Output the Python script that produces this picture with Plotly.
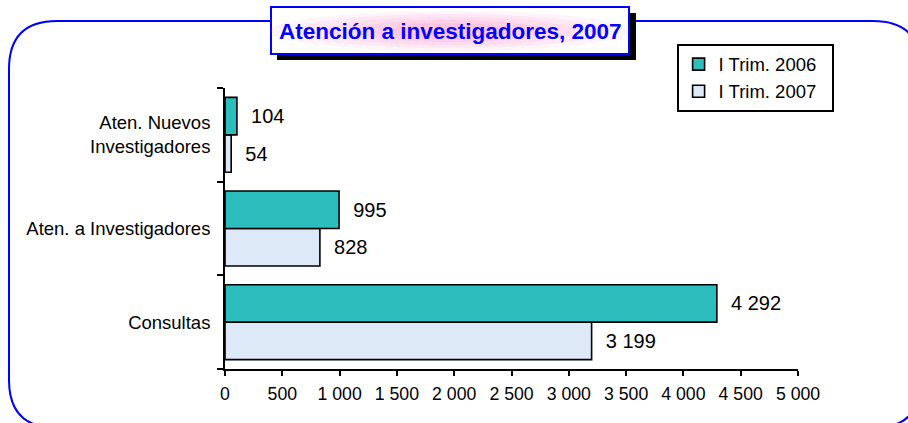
import plotly.graph_objects as go

# ---- data ----
categories = ["Consultas", "Aten. a Investigadores", "Aten. Nuevos<br>Investigadores"]
trim_2006 = [4292, 995, 104]
trim_2007 = [3199, 828, 54]
series_names = ["I Trim. 2006", "I Trim. 2007"]
x_tickvals = [0, 500, 1000, 1500, 2000, 2500, 3000, 3500, 4000, 4500, 5000]
title_text = "Atención a investigadores, 2007"

# ---- geometry helpers (pixel -> paper) ----
W, H = 908, 423
L, R, T, B = 225, 110, 88, 54
PW, PH = W - L - R, H - T - B


def px(x):
    return (x - L) / PW


def py(y):
    return (H - B - y) / PH


def rrect_path(x0, y0, x1, y1, r):
    pts = [
        ("M", [(x0 + r, y0)]),
        ("L", [(x1 - r, y0)]),
        ("Q", [(x1, y0), (x1, y0 + r)]),
        ("L", [(x1, y1 - r)]),
        ("Q", [(x1, y1), (x1 - r, y1)]),
        ("L", [(x0 + r, y1)]),
        ("Q", [(x0, y1), (x0, y1 - r)]),
        ("L", [(x0, y0 + r)]),
        ("Q", [(x0, y0), (x0 + r, y0)]),
    ]
    s = ""
    for cmd, ps in pts:
        s += cmd + " " + " ".join(f"{px(a):.5f},{py(b):.5f}" for a, b in ps) + " "
    return s + "Z"


FONT = "Liberation Sans, Arial, sans-serif"

fig = go.Figure()
fig.add_trace(go.Bar(
    y=categories, x=trim_2007, name=series_names[1] + "\u00a0\u00a0", orientation="h",
    marker=dict(color="#dde9f6", line=dict(color="black", width=1.6)),
    texttemplate="\u00a0\u00a0%{x:,d}", textposition="outside",
    textfont=dict(size=20, color="black", family=FONT),
    cliponaxis=False, legendrank=2,
))
fig.add_trace(go.Bar(
    y=categories, x=trim_2006, name=series_names[0] + "\u00a0\u00a0", orientation="h",
    marker=dict(color="#2cbdbd", line=dict(color="black", width=1.6)),
    texttemplate="\u00a0\u00a0%{x:,d}", textposition="outside",
    textfont=dict(size=20, color="black", family=FONT),
    cliponaxis=False, legendrank=1,
))

shapes = []
# outer rounded frame
shapes.append(dict(type="path", xref="paper", yref="paper",
                   path=rrect_path(9, 21, 921, 428, 48),
                   line=dict(color="#0000ff", width=2), layer="below"))
# title shadow
shapes.append(dict(type="rect", xref="paper", yref="paper",
                   x0=px(277), x1=px(636), y0=py(13), y1=py(60),
                   fillcolor="black", line=dict(width=0), layer="above"))
# title box
shapes.append(dict(type="rect", xref="paper", yref="paper",
                   x0=px(271), x1=px(629), y0=py(7), y1=py(54),
                   fillcolor="white", line=dict(color="#0000ff", width=2), layer="above"))
# pink glow
for rx, ry, op in [(180, 20, 0.07), (155, 17, 0.08), (125, 14, 0.09), (95, 11, 0.1), (60, 8, 0.1)]:
    shapes.append(dict(type="circle", xref="paper", yref="paper",
                       x0=px(450 - rx), x1=px(450 + rx), y0=py(31 - ry), y1=py(31 + ry),
                       fillcolor=f"rgba(255,105,180,{op})", line=dict(width=0), layer="above"))

fig.update_layout(
    width=W, height=H,
    margin=dict(l=L, r=R, t=T, b=B, pad=0),
    paper_bgcolor="white", plot_bgcolor="rgba(0,0,0,0)",
    barmode="group", bargap=0.2, bargroupgap=0,
    separators=", ",
    font=dict(family=FONT, color="black", size=18),
    showlegend=True,
    legend=dict(x=px(677), y=py(44), xanchor="left", yanchor="top",
                bgcolor="white", bordercolor="black", borderwidth=1.6,
                font=dict(size=18.5, family=FONT, color="black"),
                traceorder="normal"),
    shapes=shapes,
    annotations=[dict(text="<b>" + title_text + "</b>", xref="paper", yref="paper",
                      x=px(450), y=py(31), xanchor="center", yanchor="middle",
                      showarrow=False,
                      font=dict(size=22.5, color="#0000ff", family=FONT))],
    xaxis=dict(range=[0, 5000], tickvals=x_tickvals, tickformat=",d",
               showline=True, linecolor="black", linewidth=1.8,
               ticks="outside", ticklen=5, tickwidth=1.8, tickcolor="black",
               showgrid=False, zeroline=False,
               tickfont=dict(size=17.7, family=FONT, color="black"),
               ticklabelstandoff=3, fixedrange=True),
    yaxis=dict(categoryorder="array", categoryarray=categories,
               showline=True, linecolor="black", linewidth=1.8,
               ticks="outside", ticklen=6, tickwidth=1.8, tickcolor="black",
               tickson="boundaries", showgrid=False, zeroline=False,
               tickfont=dict(size=18.5, family=FONT, color="black"),
               ticklabelstandoff=9, fixedrange=True),
)

fig.write_html("out.html", config={"displayModeBar": False},
               post_script="document.body.style.margin='0';document.body.style.overflow='hidden';")
